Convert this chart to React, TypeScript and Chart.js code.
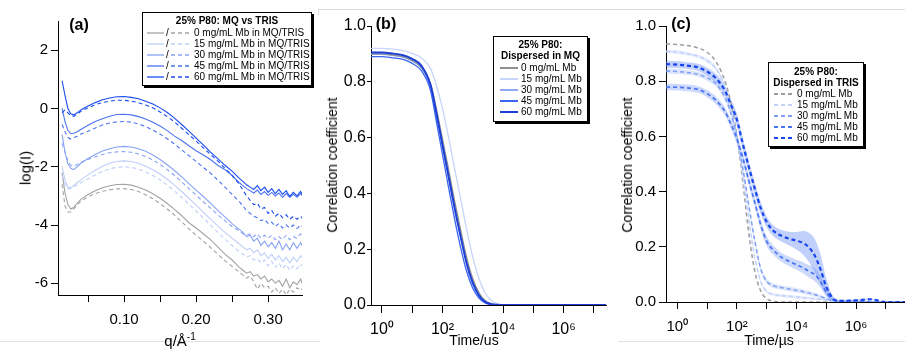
import React, { useEffect, useRef } from 'react';
import { Chart, registerables } from 'chart.js';

Chart.register(...registerables);

const FONT = "'Liberation Sans', Arial, Helvetica, sans-serif";

// ---------------- Panel (a): SAXS, log(I) vs q ----------------
const A_Q = [0.014, 0.018, 0.022, 0.026, 0.03, 0.035, 0.04, 0.05, 0.06, 0.07,
  0.08, 0.09, 0.1, 0.11, 0.12, 0.13, 0.14, 0.15, 0.16, 0.17,
  0.18, 0.19, 0.2, 0.21, 0.22, 0.23, 0.24, 0.25, 0.26, 0.265,
  0.27, 0.275, 0.28, 0.285, 0.29, 0.295, 0.3, 0.305, 0.31, 0.315,
  0.32, 0.325, 0.33, 0.335, 0.34, 0.345, 0.348];

// solid = MQ, dashed = TRIS
const A_S60 = [0.95, 0.45, 0.0, -0.18, -0.22, -0.15, -0.05, 0.08, 0.2, 0.3,
  0.36, 0.4, 0.41, 0.38, 0.33, 0.25, 0.15, 0.02, -0.14, -0.33,
  -0.55, -0.78, -1.02, -1.25, -1.5, -1.72, -1.95, -2.15, -2.4, -2.5,
  -2.62, -2.7, -2.78, -2.65, -2.82, -2.7, -2.88, -2.75, -2.92, -2.78,
  -2.95, -2.82, -3.02, -2.88, -3.0, -2.85, -2.97];
const A_D60 = [-0.15, -0.05, -0.15, -0.25, -0.27, -0.2, -0.1, 0.02, 0.13, 0.2,
  0.25, 0.28, 0.28, 0.25, 0.2, 0.12, 0.02, -0.12, -0.28, -0.46,
  -0.68, -0.9, -1.12, -1.35, -1.58, -1.8, -2.05, -2.3, -2.6, -2.8,
  -3.0, -3.15, -3.3, -3.25, -3.45, -3.4, -3.6, -3.5, -3.7, -3.6,
  -3.75, -3.65, -3.8, -3.7, -3.8, -3.7, -3.78];
const A_S45 = [0.0, -0.45, -0.75, -0.86, -0.85, -0.8, -0.72, -0.58, -0.45, -0.35,
  -0.27, -0.21, -0.2, -0.22, -0.28, -0.36, -0.47, -0.6, -0.76, -0.95,
  -1.1, -1.28, -1.45, -1.6, -1.75, -1.95, -2.1, -2.3, -2.55, -2.65,
  -2.75, -2.82, -2.9, -2.8, -2.95, -2.85, -2.98, -2.88, -3.0, -2.9,
  -3.05, -2.92, -3.05, -2.95, -3.05, -2.92, -3.0];
const A_D45 = [-0.55, -0.8, -1.0, -1.05, -1.0, -0.95, -0.88, -0.78, -0.67, -0.57,
  -0.5, -0.46, -0.45, -0.47, -0.53, -0.62, -0.74, -0.88, -1.04, -1.22,
  -1.42, -1.62, -1.82, -2.02, -2.22, -2.45, -2.7, -2.95, -3.2, -3.35,
  -3.5, -3.6, -3.7, -3.75, -3.85, -3.8, -3.95, -3.9, -4.05, -3.95,
  -4.1, -4.0, -4.1, -4.0, -4.12, -4.0, -4.05];
const A_S30 = [-0.9, -1.5, -1.9, -2.05, -2.1, -2.0, -1.88, -1.72, -1.58, -1.46,
  -1.38, -1.32, -1.3, -1.32, -1.38, -1.47, -1.6, -1.75, -1.93, -2.13,
  -2.35, -2.58, -2.8, -3.02, -3.25, -3.5, -3.72, -3.95, -4.15, -4.25,
  -4.4, -4.35, -4.55, -4.45, -4.7, -4.55, -4.75, -4.6, -4.8, -4.55,
  -4.85, -4.65, -4.85, -4.6, -4.8, -4.6, -4.75];
const A_D30 = [-1.2, -1.5, -1.8, -1.95, -1.98, -1.92, -1.85, -1.75, -1.66, -1.58,
  -1.52, -1.49, -1.48, -1.5, -1.56, -1.65, -1.77, -1.92, -2.1, -2.3,
  -2.52, -2.75, -2.97, -3.2, -3.42, -3.65, -3.85, -4.05, -4.2, -4.3,
  -4.35, -4.3, -4.4, -4.3, -4.45, -4.35, -4.45, -4.35, -4.5, -4.4,
  -4.5, -4.35, -4.5, -4.4, -4.45, -4.3, -4.4];
const A_S15 = [-2.0, -2.45, -2.7, -2.72, -2.65, -2.55, -2.45, -2.28, -2.12, -1.98,
  -1.88, -1.82, -1.8, -1.82, -1.88, -1.98, -2.1, -2.25, -2.43, -2.63,
  -2.85, -3.08, -3.32, -3.56, -3.8, -4.03, -4.25, -4.45, -4.65, -4.75,
  -4.85, -4.8, -4.95, -4.85, -5.05, -4.95, -5.15, -5.0, -5.2, -5.05,
  -5.25, -5.1, -5.3, -5.1, -5.25, -5.05, -5.15];
const A_D15 = [-2.3, -2.6, -2.75, -2.75, -2.7, -2.62, -2.55, -2.42, -2.28, -2.16,
  -2.07, -2.02, -2.0, -2.02, -2.08, -2.18, -2.3, -2.45, -2.63, -2.83,
  -3.05, -3.28, -3.52, -3.76, -4.0, -4.25, -4.48, -4.7, -4.92, -5.0,
  -5.1, -5.05, -5.2, -5.15, -5.3, -5.2, -5.4, -5.25, -5.45, -5.3,
  -5.5, -5.35, -5.55, -5.4, -5.5, -5.35, -5.45];
const A_S0 = [-2.2, -2.9, -3.3, -3.45, -3.4, -3.25, -3.12, -2.95, -2.82, -2.72,
  -2.65, -2.61, -2.6, -2.63, -2.7, -2.8, -2.93, -3.08, -3.26, -3.46,
  -3.68, -3.92, -4.1, -4.3, -4.5, -4.75, -5.0, -5.2, -5.45, -5.55,
  -5.65, -5.6, -5.75, -5.7, -5.85, -5.75, -5.95, -5.85, -6.0, -5.9,
  -6.1, -5.85, -6.15, -5.95, -6.05, -5.85, -6.05];
const A_D0 = [-2.6, -3.35, -3.55, -3.55, -3.45, -3.3, -3.18, -3.03, -2.92, -2.84,
  -2.79, -2.76, -2.75, -2.78, -2.85, -2.96, -3.1, -3.26, -3.45, -3.66,
  -3.89, -4.13, -4.35, -4.55, -4.77, -5.0, -5.22, -5.42, -5.62, -5.72,
  -5.82, -5.75, -5.95, -6.2, -6.0, -6.15, -6.1, -6.3, -6.15, -6.35,
  -6.2, -6.4, -6.2, -6.3, -6.15, -6.25, -6.15];

const A_X_TICKS = [0.05, 0.1, 0.15, 0.2, 0.25, 0.3];
const A_X_LABELS = ['', '0.10', '', '0.20', '', '0.30'];
const A_Y_TICKS = [-6, -4, -2, 0, 2];
const A_Y_LABELS = ['-6', '-4', '-2', '0', '2'];
const A_LEGEND = ['0 mg/mL Mb in MQ/TRIS', '15 mg/mL Mb in MQ/TRIS', '30 mg/mL Mb in MQ/TRIS',
  '45 mg/mL Mb in MQ/TRIS', '60 mg/mL Mb in MQ/TRIS'];
const A_COLORS = ['#a3a3a3', '#bfcff9', '#88a3f5', '#4c73f1', '#1a4cf0'];

// ---------------- Panel (b): DLS in MQ ----------------
const B_T = [0.44, 1, 2, 5, 10, 20, 40, 60, 100, 160, 250, 400, 630, 1000, 1600, 2500, 4000, 6300,
  10000, 100000, 1000000, 10000000, 25000000];
const B_0 = [0.9, 0.9, 0.897, 0.89, 0.877, 0.853, 0.795, 0.715, 0.595, 0.485, 0.375, 0.268, 0.17, 0.095,
  0.045, 0.017, 0.005, 0.001, 0, 0, 0, 0, 0];
const B_15 = [0.92, 0.92, 0.918, 0.912, 0.902, 0.886, 0.848, 0.795, 0.705, 0.6, 0.49, 0.38, 0.27, 0.172,
  0.095, 0.045, 0.017, 0.005, 0.001, 0, 0, 0, 0];
const B_30 = [0.898, 0.898, 0.895, 0.888, 0.875, 0.85, 0.785, 0.695, 0.57, 0.455, 0.345, 0.24, 0.145, 0.075,
  0.032, 0.011, 0.003, 0.001, 0, 0, 0, 0, 0];
const B_45 = [0.89, 0.89, 0.887, 0.88, 0.866, 0.84, 0.77, 0.67, 0.54, 0.42, 0.31, 0.205, 0.12, 0.06,
  0.025, 0.008, 0.002, 0, 0, 0, 0, 0, 0];
const B_60 = [0.905, 0.905, 0.902, 0.895, 0.882, 0.858, 0.79, 0.7, 0.575, 0.46, 0.35, 0.245, 0.15, 0.08,
  0.035, 0.012, 0.003, 0.001, 0, 0, 0, 0, 0];
const B_COLORS = ['#8f8f8f', '#c8d5fa', '#8fa9f6', '#3d66f0', '#1b3fd6'];

// ---------------- Panel (c): DLS in TRIS ----------------
const C_T = [0.42, 1, 2, 5, 10, 20, 40, 60, 100, 160, 250, 400, 630, 1000, 1600, 2500, 4000, 6300,
  10000, 16000, 25000, 40000, 63000, 100000, 160000, 250000, 1000000, 3000000, 10000000, 44000000];
const C_0 = [0.935, 0.933, 0.93, 0.92, 0.905, 0.87, 0.8, 0.73, 0.6, 0.43, 0.25, 0.11, 0.04, 0.012, 0.003,
  0.001, 0, 0, 0, 0, 0, 0, 0, 0, 0, 0, 0, 0, 0, 0];
const C_15 = [0.908, 0.905, 0.9, 0.89, 0.875, 0.845, 0.78, 0.71, 0.59, 0.45, 0.3, 0.16, 0.075, 0.038, 0.028,
  0.024, 0.022, 0.02, 0.018, 0.016, 0.014, 0.012, 0.01, 0.007, 0.003, 0.001, 0, 0, 0, 0];
const C_30 = [0.837, 0.835, 0.832, 0.825, 0.812, 0.79, 0.74, 0.69, 0.6, 0.48, 0.35, 0.22, 0.12, 0.075, 0.06,
  0.054, 0.05, 0.046, 0.042, 0.038, 0.033, 0.027, 0.02, 0.012, 0.005, 0.002, 0, 0, 0, 0];
const C_45 = [0.779, 0.778, 0.776, 0.77, 0.755, 0.73, 0.69, 0.65, 0.59, 0.52, 0.44, 0.36, 0.28, 0.22, 0.19,
  0.17, 0.155, 0.145, 0.135, 0.125, 0.112, 0.1, 0.075, 0.035, 0.01, 0.003, 0.004, 0, 0, 0];
const C_60 = [0.862, 0.86, 0.857, 0.85, 0.835, 0.81, 0.765, 0.72, 0.66, 0.57, 0.49, 0.41, 0.34, 0.29, 0.26,
  0.245, 0.235, 0.228, 0.222, 0.215, 0.2, 0.17, 0.12, 0.055, 0.015, 0.004, 0.006, 0.01, 0, 0];
// error half-widths (shaded bands)
const C_E15 = [0.006, 0.006, 0.006, 0.006, 0.007, 0.007, 0.008, 0.008, 0.008, 0.008, 0.008, 0.007, 0.006, 0.005,
  0.005, 0.005, 0.005, 0.005, 0.005, 0.005, 0.004, 0.004, 0.004, 0.003, 0.002, 0.001, 0, 0, 0, 0];
const C_E30 = [0.009, 0.009, 0.009, 0.009, 0.01, 0.01, 0.011, 0.012, 0.012, 0.012, 0.012, 0.011, 0.01, 0.009,
  0.008, 0.008, 0.008, 0.008, 0.008, 0.008, 0.008, 0.007, 0.006, 0.005, 0.003, 0.001, 0, 0, 0, 0];
const C_E45 = [0.012, 0.012, 0.012, 0.012, 0.013, 0.014, 0.015, 0.016, 0.018, 0.018, 0.018, 0.018, 0.018, 0.018,
  0.017, 0.016, 0.016, 0.017, 0.018, 0.02, 0.022, 0.024, 0.022, 0.015, 0.006, 0.003, 0.002, 0, 0, 0];
const C_E60 = [0.012, 0.012, 0.012, 0.013, 0.014, 0.016, 0.018, 0.02, 0.022, 0.022, 0.022, 0.022, 0.022, 0.02,
  0.02, 0.02, 0.022, 0.026, 0.032, 0.042, 0.052, 0.06, 0.055, 0.03, 0.01, 0.004, 0.003, 0.003, 0, 0];
const C_COLORS = ['#9c9c9c', '#c3d2fa', '#7f9ef5', '#4a74f2', '#1745ee'];
const C_BANDS = ['rgba(0,0,0,0)', 'rgba(175,196,249,0.35)', 'rgba(140,168,246,0.3)', 'rgba(110,145,245,0.35)', 'rgba(100,135,245,0.4)'];

const LOG_TICKS = [1, 10, 100, 1000, 10000, 100000, 1000000, 10000000];
const LOG_LABELS = ['10\u2070', '', '10\u00b2', '', '10\u2074', '', '10\u2076', ''];
const CORR_TICKS = [0, 0.2, 0.4, 0.6, 0.8, 1.0];
const CORR_LABELS = ['0.0', '0.2', '0.4', '0.6', '0.8', '1.0'];
const MB_LABELS = ['0 mg/mL Mb', '15 mg/mL Mb', '30 mg/mL Mb', '45 mg/mL Mb', '60 mg/mL Mb'];

// ---------------- helpers ----------------
function axis(o: any) {
  return {
    type: o.type, min: o.min, max: o.max,
    position: o.horiz ? 'bottom' : 'left',
    afterBuildTicks: (s: any) => { s.ticks = o.ticks.map((v: number) => ({ value: v })); },
    afterFit: (s: any) => { if (o.horiz) s.height = o.box; else s.width = o.box; },
    ticks: {
      autoSkip: false, maxRotation: 0, minRotation: 0, padding: o.pad, color: '#000',
      font: { family: FONT, size: o.fontSize },
      callback: (_v: any, i: number) => o.labels[i],
    },
    grid: { display: true, drawOnChartArea: false, drawTicks: true, tickLength: o.tickLen, color: '#000', lineWidth: 1 },
    border: { display: true, color: '#000', width: 1 },
  };
}

function line(xs: number[], ys: number[], color: string, dashed: boolean, width: number, order: number, smooth: boolean) {
  return {
    data: xs.map((x, i) => ({ x, y: ys[i] })),
    borderColor: color, backgroundColor: color, borderWidth: width,
    borderDash: dashed ? [4, 3] : [], pointRadius: 0, pointHoverRadius: 0,
    fill: false, order, tension: 0,
    cubicInterpolationMode: smooth ? 'monotone' : 'default',
  };
}

function baseOptions(pad: any, x: any, y: any) {
  return {
    animation: false, responsive: false, maintainAspectRatio: false,
    events: [],
    layout: { padding: pad },
    plugins: { legend: { display: false }, tooltip: { enabled: false }, title: { display: false } },
    scales: { x, y },
  };
}

function configA(): any {
  const solid = [A_S0, A_S15, A_S30, A_S45, A_S60];
  const dashed = [A_D0, A_D15, A_D30, A_D45, A_D60];
  const datasets: any[] = [];
  solid.forEach((ys, k) => {
    datasets.push(line(A_Q, ys, A_COLORS[k], false, 1.1, 10 - 2 * k, false));
    datasets.push(line(A_Q, dashed[k], A_COLORS[k], true, 1.1, 11 - 2 * k, false));
  });
  return {
    type: 'line', data: { datasets },
    options: baseOptions({ top: 21, right: 16, left: 0, bottom: 0 },
      axis({ type: 'linear', min: 0.0083, max: 0.347, horiz: true, box: 55, ticks: A_X_TICKS, labels: A_X_LABELS, tickLen: 7, pad: 9, fontSize: 15 }),
      axis({ type: 'linear', min: -6.4, max: 3.0, horiz: false, box: 58, ticks: A_Y_TICKS, labels: A_Y_LABELS, tickLen: 7, pad: 3, fontSize: 15 })),
  };
}

function configB(): any {
  const ys = [B_0, B_15, B_30, B_45, B_60];
  const orders = [2, 4, 3, 1, 0];
  const widths = [1.3, 1.3, 1.3, 1.3, 2];
  const datasets = ys.map((y, k) => line(B_T, y, B_COLORS[k], false, widths[k], orders[k], true));
  return {
    type: 'line', data: { datasets },
    options: baseOptions({ top: 26, right: 4, left: 0, bottom: 0 },
      axis({ type: 'logarithmic', min: 0.437, max: 25100000, horiz: true, box: 45, ticks: LOG_TICKS, labels: LOG_LABELS, tickLen: 8, pad: 7, fontSize: 16 }),
      axis({ type: 'linear', min: 0, max: 1, horiz: false, box: 53, ticks: CORR_TICKS, labels: CORR_LABELS, tickLen: 4, pad: 1, fontSize: 16 })),
  };
}

function configC(): any {
  const ys = [C_0, C_15, C_30, C_45, C_60];
  const errs = [null, C_E15, C_E30, C_E45, C_E60];
  const orders = [4, 3, 2, 1, 0];
  const widths = [1.5, 1.5, 1.5, 1.7, 2.2];
  const datasets: any[] = [];
  ys.forEach((y, k) => {
    datasets.push(line(C_T, y, C_COLORS[k], true, widths[k], orders[k], true));
  });
  errs.forEach((e, k) => {
    if (!e) return;
    const up = ys[k].map((v, i) => v + e[i]);
    const lo = ys[k].map((v, i) => Math.max(v - e[i], 0));
    const u: any = line(C_T, up, 'rgba(0,0,0,0)', false, 0, 20 + k, true);
    u.fill = '+1';
    u.backgroundColor = C_BANDS[k];
    const l: any = line(C_T, lo, 'rgba(0,0,0,0)', false, 0, 20 + k, true);
    datasets.push(u, l);
  });
  return {
    type: 'line', data: { datasets },
    options: baseOptions({ top: 26, right: 0, left: 0, bottom: 0 },
      axis({ type: 'logarithmic', min: 0.417, max: 43700000, horiz: true, box: 48, ticks: LOG_TICKS, labels: LOG_LABELS, tickLen: 7, pad: 9, fontSize: 15 }),
      axis({ type: 'linear', min: 0, max: 1, horiz: false, box: 56, ticks: CORR_TICKS, labels: CORR_LABELS, tickLen: 7, pad: 3, fontSize: 15 })),
  };
}

function ChartCanvas({ left, width, height, make }: any) {
  const ref = useRef<HTMLCanvasElement>(null);
  useEffect(() => {
    const chart = new Chart(ref.current as HTMLCanvasElement, make());
    return () => chart.destroy();
  }, []);
  return <canvas ref={ref} width={width} height={height}
    style={{ position: 'absolute', left, top: 0, width, height, display: 'block' }} />;
}

function Txt({ x, y, rot, size, bold, children }: any) {
  return (
    <div style={{
      position: 'absolute', left: x, top: y, whiteSpace: 'nowrap', lineHeight: 1,
      transform: `translate(-50%, -50%)${rot ? ' rotate(-90deg)' : ''}`,
      fontSize: size, fontWeight: bold ? 'bold' : 'normal',
    }}>{children}</div>
  );
}

function Sample({ x, y, w, color, dashed, width }: any) {
  return (
    <svg width={w + 2} height={6} style={{ position: 'absolute', left: x - 1, top: y - 3 }}>
      <line x1={1} x2={w + 1} y1={3} y2={3} stroke={color} strokeWidth={width}
        strokeDasharray={dashed ? '4 3' : undefined} />
    </svg>
  );
}

function LegendBox({ left, top, width, height, titles, titleTops, rowTops, children }: any) {
  return (
    <div style={{
      position: 'absolute', left, top, width, height, border: '1px solid #000',
      boxShadow: '2px 2px 0 #000', background: '#fff', fontSize: 10,
    }}>
      {titles.map((t: string, i: number) => (
        <div key={t} style={{ position: 'absolute', left: 0, right: 0, top: titleTops[i] - 6, height: 12, lineHeight: '12px', textAlign: 'center', fontWeight: 'bold' }}>{t}</div>
      ))}
      {children}
    </div>
  );
}

function Row({ x, y, text }: any) {
  return <div style={{ position: 'absolute', left: x, top: y - 6, height: 12, lineHeight: '12px', whiteSpace: 'nowrap' }}>{text}</div>;
}

export default function App() {
  const rowsA = [20, 31, 42, 53, 64];
  const rowsB = [31, 42, 53, 64, 75];
  const rowsC = [31, 42, 53, 64, 75];
  return (
    <div style={{ position: 'absolute', left: 0, top: 0, width: 905, height: 350, background: '#fff', overflow: 'hidden', fontFamily: FONT, color: '#000' }}>
      <div style={{ position: 'absolute', left: 318, top: 9, width: 587, height: 0, borderTop: '1px solid #dcdcdc' }} />
      <div style={{ position: 'absolute', left: 318, top: 9, width: 0, height: 6, borderLeft: '1px solid #dcdcdc' }} />
      <div style={{ position: 'absolute', left: 0, top: 341, width: 320, height: 0, borderTop: '1px solid #e2e2e2' }} />
      <div style={{ position: 'absolute', left: 618, top: 341, width: 287, height: 0, borderTop: '1px solid #e2e2e2' }} />

      <ChartCanvas left={0} width={318} height={350} make={configA} />
      <ChartCanvas left={318} width={292} height={350} make={configB} />
      <ChartCanvas left={610} width={295} height={350} make={configC} />

      {/* panel labels and axis titles */}
      <Txt x={79} y={25} size={16} bold>(a)</Txt>
      <Txt x={386} y={24} size={16} bold>(b)</Txt>
      <Txt x={681} y={24} size={16} bold>(c)</Txt>
      <Txt x={25} y={168} size={15} rot>log(I)</Txt>
      <Txt x={180} y={340} size={15}>q/Å<span style={{ fontSize: 10, verticalAlign: 'super' }}>-1</span></Txt>
      <Txt x={332} y={165} size={14} rot>Correlation coefficient</Txt>
      <Txt x={474} y={340} size={14}>Time/us</Txt>
      <Txt x={627} y={165} size={14} rot>Correlation coefficient</Txt>
      <Txt x={769} y={340} size={14}>Time/µs</Txt>

      {/* legend (a) */}
      <LegendBox left={142} top={12} width={168} height={72} titles={['25% P80: MQ vs TRIS']} titleTops={[8]} rowTops={rowsA}>
        {A_LEGEND.map((t, k) => (
          <React.Fragment key={t}>
            <Sample x={4} y={rowsA[k]} w={17} color={A_COLORS[k]} dashed={false} width={1.3} />
            <Row x={23} y={rowsA[k]} text="/" />
            <Sample x={28} y={rowsA[k]} w={21} color={A_COLORS[k]} dashed width={1.3} />
            <Row x={51} y={rowsA[k]} text={t} />
          </React.Fragment>
        ))}
      </LegendBox>

      {/* legend (b) */}
      <LegendBox left={493} top={36} width={93} height={84} titles={['25% P80:', 'Dispersed in MQ']} titleTops={[8, 19]} rowTops={rowsB}>
        {MB_LABELS.map((t, k) => (
          <React.Fragment key={t}>
            <Sample x={6} y={rowsB[k]} w={18} color={B_COLORS[k]} dashed={false} width={2} />
            <Row x={27} y={rowsB[k]} text={t} />
          </React.Fragment>
        ))}
      </LegendBox>

      {/* legend (c) */}
      <LegendBox left={768} top={62} width={94} height={83} titles={['25% P80:', 'Dispersed in TRIS']} titleTops={[9, 20]} rowTops={rowsC}>
        {MB_LABELS.map((t, k) => (
          <React.Fragment key={t}>
            <Sample x={5} y={rowsC[k]} w={19} color={C_COLORS[k]} dashed width={2} />
            <Row x={28} y={rowsC[k]} text={t} />
          </React.Fragment>
        ))}
      </LegendBox>
    </div>
  );
}
